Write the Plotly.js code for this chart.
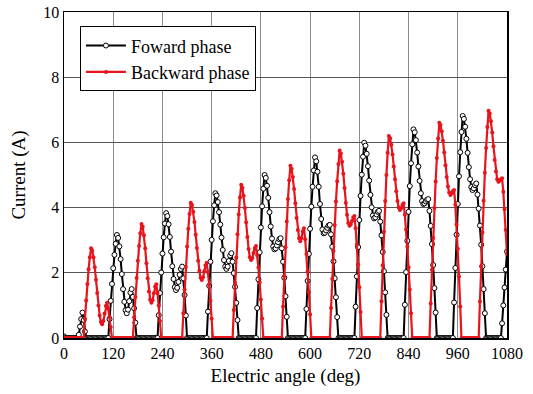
<!DOCTYPE html>
<html>
<head>
<meta charset="utf-8">
<script src="https://cdn.plot.ly/plotly-3.0.1.min.js"></script>
<style>
  html, body { margin: 0; padding: 0; background: #fff; }
  #chart { width: 533px; height: 394px; }
</style>
</head>
<body>
<div id="chart"></div>
<script>
// Sampling: one sample every 3 electric degrees, 0..1080
const angleStepDeg = 3;

// Forward phase current (A)
const forwardPhase = [
  0.05, 0,0,0,0,0,0,0,0,0,0,0, 0.1,0.35,0.58,0.78,0.55,0.2,
  0,0,0,0,0,0,0,0,0,0,0,0,0,0,0,0,0,0,0,
  0.58,1.14,1.66,2.14,2.55,2.89,3.16,3.07,2.81,2.42,1.96,1.50,1.11,0.85,0.76,0.87,1.13,1.39,1.50,1.26,0.91,0.47,
  0,0,0,0,0,0,0,0,0,0,0,0,0,0,0,0,0,0,
  0.70,1.38,2.01,2.59,3.09,3.51,3.83,3.74,3.49,3.10,2.65,2.20,1.81,1.56,1.47,1.54,1.72,1.94,2.12,2.19,1.83,1.32,0.69,
  0,0,0,0,0,0,0,0,0,0,0,0,0,0,0,0,0,
  0.81,1.60,2.34,3.01,3.58,4.07,4.44,4.37,4.17,3.86,3.48,3.08,2.70,2.39,2.19,2.12,2.19,2.36,2.53,2.60,2.34,1.99,1.57,1.08,0.55,
  0,0,0,0,0,0,0,0,0,0,0,0,0,0,0,
  0.92,1.80,2.63,3.39,4.04,4.58,5.00,4.91,4.67,4.30,3.86,3.42,3.05,2.81,2.72,2.75,2.84,2.94,3.03,3.06,2.75,2.34,1.85,1.28,0.65,
  0,0,0,0,0,0,0,0,0,0,0,0,0,0,0,
  0.89,1.75,2.58,3.35,4.03,4.64,5.14,5.54,5.42,5.10,4.64,4.11,3.65,3.33,3.21,3.23,3.30,3.38,3.45,3.47,3.18,2.80,2.35,1.83,1.25,0.64,
  0,0,0,0,0,0,0,0,0,0,0,0,0,0,
  0.96,1.89,2.79,3.62,4.36,5.01,5.56,5.99,5.90,5.65,5.27,4.83,4.39,4.01,3.76,3.67,3.70,3.79,3.87,3.90,3.57,3.15,2.64,2.05,1.40,0.71,
  0,0,0,0,0,0,0,0,0,0,0,0,0,0,
  1.02,2.02,2.98,3.87,4.66,5.36,5.94,6.40,6.31,6.07,5.69,5.26,4.82,4.44,4.20,4.11,4.13,4.19,4.24,4.26,3.90,3.44,2.88,2.24,1.53,0.78,
  0,0,0,0,0,0,0,0,0,0,0,0,0,0,
  1.09,2.15,3.17,4.11,4.96,5.70,6.32,6.81,6.72,6.48,6.11,5.68,5.24,4.87,4.63,4.54,4.59,4.69,4.74,4.40,3.97,3.45,2.86,2.20,1.50,0.76,
  0,0,0,0,0,0,0,0,0,0,0,0,0,
  0.45,1.00,1.55,2.10,2.65
];

// Backward phase current (A)
const backwardPhase = [
  0,0,0,0,0,0,0,0,0,0,0,0,0,0,0,0,0,
  0.59,1.15,1.66,2.11,2.48,2.75,2.68,2.48,2.17,1.79,1.38,1.00,0.69,0.49,0.42,0.52,0.75,0.98,1.08,0.90,0.65,0.34,
  0,0,0,0,0,0,0,0,0,0,0,0,0,0,0,0,0,0,
  0.64,1.26,1.84,2.37,2.82,3.21,3.50,3.41,3.15,2.75,2.29,1.83,1.43,1.17,1.08,1.16,1.37,1.57,1.65,1.38,1.00,0.52,
  0,0,0,0,0,0,0,0,0,0,0,0,0,0,0,0,0,0,
  0.76,1.49,2.18,2.81,3.35,3.80,4.15,4.08,3.87,3.56,3.17,2.76,2.37,2.06,1.85,1.78,1.86,2.05,2.23,2.31,2.02,1.63,1.14,0.59,
  0,0,0,0,0,0,0,0,0,0,0,0,0,0,0,0,0,
  0.86,1.69,2.47,3.18,3.79,4.31,4.70,4.61,4.36,3.99,3.55,3.10,2.73,2.48,2.39,2.45,2.61,2.76,2.82,2.54,2.16,1.70,1.18,0.60,
  0,0,0,0,0,0,0,0,0,0,0,0,0,0,0,0,
  0.97,1.90,2.78,3.57,4.26,4.84,5.28,5.19,4.94,4.57,4.13,3.68,3.31,3.06,2.97,3.07,3.27,3.37,3.03,2.58,2.04,1.41,0.72,
  0,0,0,0,0,0,0,0,0,0,0,0,0,0,0,0,
  0.92,1.82,2.67,3.47,4.19,4.81,5.34,5.75,5.66,5.41,5.04,4.60,4.15,3.78,3.53,3.44,3.48,3.59,3.70,3.74,3.37,2.86,2.26,1.56,0.80,
  0,0,0,0,0,0,0,0,0,0,0,0,0,0,0,0,
  1.13,2.23,3.26,4.20,5.00,5.68,6.20,6.13,5.93,5.63,5.26,4.87,4.50,4.20,4.00,3.93,3.98,4.08,4.13,3.78,3.33,2.80,2.17,1.49,0.76,
  0,0,0,0,0,0,0,0,0,0,0,0,0,0,0,
  1.06,2.09,3.07,3.99,4.80,5.52,6.12,6.60,6.53,6.34,6.05,5.69,5.30,4.94,4.65,4.46,4.39,4.43,4.50,4.54,4.09,3.48,2.74,1.89,0.97,
  0,0,0,0,0,0,0,0,0,0,0,0,0,0,0,
  1.12,2.20,3.24,4.21,5.07,5.83,6.47,6.97,6.89,6.65,6.30,5.88,5.46,5.11,4.87,4.79,4.82,4.87,4.90,4.49,3.95,3.32,2.58
];

const xTickVals = [0, 120, 240, 360, 480, 600, 720, 840, 960, 1080];
const yTickVals = [0, 2, 4, 6, 8, 10];
const seriesNames = ['Foward phase', 'Backward phase'];

const angleFwd = forwardPhase.map((_, i) => i * angleStepDeg);
const angleBwd = backwardPhase.map((_, i) => i * angleStepDeg);

const serif = 'Liberation Serif, Times New Roman, serif';

const traces = [
  {
    x: angleFwd, y: forwardPhase, name: seriesNames[0],
    type: 'scatter', mode: 'lines+markers',
    line: { color: '#000000', width: 2 },
    marker: { symbol: 'circle', size: 5, color: '#ffffff', line: { color: '#000000', width: 1 } }
  },
  {
    x: angleBwd, y: backwardPhase, name: seriesNames[1],
    type: 'scatter', mode: 'lines+markers',
    line: { color: '#e8141c', width: 2.2 },
    marker: { symbol: 'circle', size: 4, color: '#e8141c' }
  }
];

const layout = {
  width: 533, height: 394,
  margin: { l: 64, r: 26, t: 12, b: 56 },
  paper_bgcolor: '#ffffff', plot_bgcolor: '#ffffff',
  font: { family: serif, color: '#000', size: 16 },
  showlegend: true,
  legend: {
    x: 0.036, y: 0.956, xanchor: 'left', yanchor: 'top',
    bgcolor: '#ffffff', bordercolor: '#000', borderwidth: 1,
    font: { family: serif, size: 18, color: '#000' },
    tracegroupgap: 0, itemwidth: 40
  },
  xaxis: {
    range: [0, 1080], tickmode: 'array', tickvals: xTickVals,
    ticktext: xTickVals.map(String),
    showgrid: true, gridcolor: '#8c8c8c', gridwidth: 1,
    zeroline: false, showline: true, linecolor: '#000', linewidth: 1.5, mirror: true,
    ticks: '', tickfont: { family: serif, size: 16 },
    title: { text: 'Electric angle (deg)', font: { family: serif, size: 19 }, standoff: 8 }
  },
  yaxis: {
    range: [0, 10], tickmode: 'array', tickvals: yTickVals,
    showgrid: true, gridcolor: '#555555', gridwidth: 1,
    zeroline: false, showline: true, linecolor: '#000', linewidth: 1.5, mirror: true,
    ticks: '', tickfont: { family: serif, size: 16 },
    title: { text: 'Current (A)', font: { family: serif, size: 19 }, standoff: 12 }
  }
};

Plotly.newPlot('chart', traces, layout, { displayModeBar: false, staticPlot: true });
</script>
</body>
</html>
